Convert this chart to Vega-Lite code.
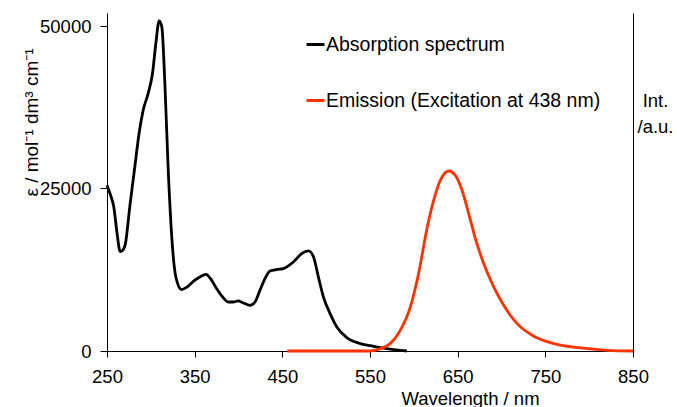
{
  "$schema": "https://vega.github.io/schema/vega-lite/v6.json",
  "width": 526,
  "height": 338,
  "autosize": {"type": "none"},
  "padding": {"left": 107, "top": 13, "right": 44, "bottom": 56},
  "background": "white",
  "config": {
    "view": {"stroke": null},
    "font": "Liberation Sans",
    "axis": {"grid": false, "domainColor": "black", "tickColor": "black", "labelColor": "black", "titleColor": "black", "labelFont": "Liberation Sans", "titleFont": "Liberation Sans", "titleFontWeight": "normal", "domainWidth": 1, "tickWidth": 1}
  },
  "datasets": {
    "absorption": [
      {"nm": 250, "eps": 25500}, {"nm": 254, "eps": 24000}, {"nm": 257.7, "eps": 22200}, {"nm": 261.5, "eps": 18100},
      {"nm": 265, "eps": 15300}, {"nm": 268, "eps": 15500}, {"nm": 271, "eps": 16500}, {"nm": 276, "eps": 22200},
      {"nm": 281.7, "eps": 28300}, {"nm": 286.6, "eps": 33500}, {"nm": 291.2, "eps": 37000}, {"nm": 296.9, "eps": 39600},
      {"nm": 301.9, "eps": 42700}, {"nm": 305.7, "eps": 47300}, {"nm": 309.5, "eps": 50800}, {"nm": 312.5, "eps": 49900},
      {"nm": 316, "eps": 41200}, {"nm": 319.7, "eps": 28300}, {"nm": 323.6, "eps": 18100}, {"nm": 328.5, "eps": 11400},
      {"nm": 335, "eps": 9450}, {"nm": 341.4, "eps": 9850}, {"nm": 350.2, "eps": 10900}, {"nm": 355.9, "eps": 11400},
      {"nm": 362.8, "eps": 11800}, {"nm": 369.3, "eps": 10900}, {"nm": 375, "eps": 9600}, {"nm": 381.9, "eps": 8300},
      {"nm": 388.3, "eps": 7540}, {"nm": 394, "eps": 7540}, {"nm": 399.7, "eps": 7700}, {"nm": 405.4, "eps": 7390},
      {"nm": 413, "eps": 7030}, {"nm": 418.8, "eps": 7540}, {"nm": 424.5, "eps": 9340}, {"nm": 430.2, "eps": 11140},
      {"nm": 436, "eps": 12300}, {"nm": 443.6, "eps": 12530}, {"nm": 451.2, "eps": 12680}, {"nm": 462.6, "eps": 13700},
      {"nm": 472.2, "eps": 15000}, {"nm": 479.8, "eps": 15400}, {"nm": 485.5, "eps": 14500}, {"nm": 491.1, "eps": 11400},
      {"nm": 496.9, "eps": 8300}, {"nm": 504.5, "eps": 5760}, {"nm": 512.2, "eps": 3690}, {"nm": 523.6, "eps": 2060},
      {"nm": 538.8, "eps": 1140}, {"nm": 554, "eps": 720}, {"nm": 569.3, "eps": 370}, {"nm": 584.5, "eps": 100},
      {"nm": 592, "eps": 0}
    ],
    "emission": [
      {"nm": 455.7, "int": 0}, {"nm": 550, "int": 0}, {"nm": 561.9, "int": 0.013}, {"nm": 573, "int": 0.041},
      {"nm": 584.5, "int": 0.115}, {"nm": 596, "int": 0.244}, {"nm": 605.4, "int": 0.43}, {"nm": 615, "int": 0.68},
      {"nm": 622.6, "int": 0.837}, {"nm": 630.2, "int": 0.948}, {"nm": 639.7, "int": 1.0}, {"nm": 647.4, "int": 0.976},
      {"nm": 655, "int": 0.893}, {"nm": 662.6, "int": 0.763}, {"nm": 670.2, "int": 0.625}, {"nm": 679.7, "int": 0.486},
      {"nm": 691.1, "int": 0.356}, {"nm": 702.5, "int": 0.254}, {"nm": 717.9, "int": 0.152}, {"nm": 736.9, "int": 0.082},
      {"nm": 759.7, "int": 0.041}, {"nm": 790.2, "int": 0.017}, {"nm": 820.7, "int": 0.004}, {"nm": 850, "int": 0}
    ]
  },
  "layer": [
    {
      "data": {"name": "absorption"},
      "transform": [{"calculate": "'Absorption spectrum'", "as": "series"}],
      "mark": {"type": "line", "strokeWidth": 2.8, "interpolate": "monotone"},
      "encoding": {
        "x": {"field": "nm", "type": "quantitative", "scale": {"domain": [250, 850], "nice": false, "zero": false},
          "axis": {"values": [250, 350, 450, 550, 650, 750, 850], "title": "Wavelength / nm", "labelFontSize": 18.5, "titleFontSize": 18.5, "tickSize": 6, "labelPadding": 10, "titleX": 363, "titleY": 47, "titleBaseline": "middle", "labelFlush": false}},
        "y": {"field": "eps", "type": "quantitative", "scale": {"domain": [0, 52000], "nice": false},
          "axis": {"values": [0, 25000, 50000], "title": "ε / mol⁻¹ dm³ cm⁻¹", "labelFontSize": 18.5, "titleFontSize": 19, "tickSize": 7, "labelPadding": 9, "titleX": -76, "titleY": 109, "titleBaseline": "middle", "titleAlign": "center", "format": "d"}},
        "color": {"field": "series", "type": "nominal",
          "scale": {"domain": ["Absorption spectrum", "Emission (Excitation at 438 nm)"], "range": ["#000000", "#ff3300"]},
          "legend": {"title": null, "orient": "none", "legendX": 198, "legendY": 21, "symbolType": "stroke", "symbolSize": 324, "symbolStrokeWidth": 3, "labelFontSize": 19.5, "labelFont": "Liberation Sans", "labelColor": "black", "rowPadding": 36, "labelOffset": 0, "labelLimit": 400}}
      }
    },
    {
      "data": {"name": "emission"},
      "transform": [{"calculate": "'Emission (Excitation at 438 nm)'", "as": "series"}],
      "mark": {"type": "line", "strokeWidth": 2.8, "interpolate": "monotone"},
      "encoding": {
        "x": {"field": "nm", "type": "quantitative"},
        "y": {"field": "int", "type": "quantitative", "scale": {"domain": [0, 1.878], "nice": false},
          "axis": {"orient": "right", "ticks": false, "labels": false, "title": ["Int.", "/a.u."], "titleFontSize": 18.5, "titleAngle": 0, "titleAlign": "center", "titleBaseline": "middle", "titleX": 22, "titleY": 87, "titleLineHeight": 26}},
        "color": {"field": "series", "type": "nominal"}
      }
    }
  ],
  "resolve": {"scale": {"y": "independent"}}
}
